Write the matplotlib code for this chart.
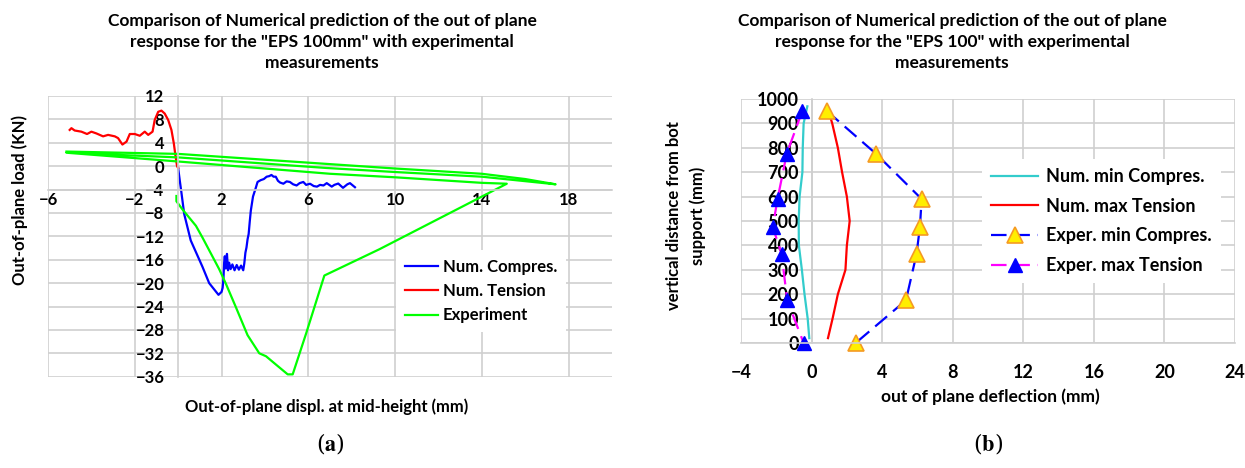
import numpy as np
import matplotlib.pyplot as plt

plt.rcParams['font.family'] = ['Lato', 'DejaVu Sans']
plt.rcParams['font.weight'] = 'bold'
plt.rcParams['mathtext.fontset'] = 'stix'

# (a) load vs mid-height displacement
tension_x = [-5.0, -4.92, -4.77, -4.46, -4.2, -4.0, -3.77, -3.46, -3.23, -2.92, -2.77, -2.57,
             -2.38, -2.23, -2.0, -1.77, -1.54, -1.38, -1.18, -1.08, -0.92, -0.77, -0.62, -0.46,
             -0.31, -0.2, -0.12, -0.05, 0.0]
tension_y = [6.2, 6.5, 6.1, 5.9, 5.5, 5.9, 5.6, 5.1, 5.35, 5.1, 4.8, 3.7,
             4.2, 5.5, 5.5, 5.2, 5.9, 5.35, 5.9, 7.9, 9.3, 9.5, 9.0, 7.9,
             6.2, 3.9, 1.7, 0.0, -0.3]

compres_x = [0.0, 0.08, 0.15, 0.28, 0.58, 1.12, 1.43, 1.86, 2.0, 2.05, 2.09, 2.12, 2.15, 2.2,
             2.25, 2.3, 2.35, 2.42, 2.5, 2.6, 2.7, 2.8, 2.9, 3.0, 3.05, 3.1, 3.15, 3.2, 3.25,
             3.3, 3.35, 3.45, 3.58, 3.66, 3.8, 3.95, 4.08, 4.2, 4.3, 4.4, 4.5, 4.6, 4.7, 4.85,
             5.0, 5.15, 5.3, 5.46, 5.6, 5.77, 5.9, 6.08, 6.25, 6.4, 6.54, 6.7, 6.85, 7.08, 7.2,
             7.38, 7.6, 7.8, 7.92, 8.15]
compres_y = [-0.3, -2.6, -4.5, -8.2, -12.7, -17.2, -20.0, -22.0, -21.5, -20.8, -19.1, -16.5,
             -15.4, -17.5, -15.0, -17.8, -16.5, -17.6, -16.8, -17.8, -16.9, -17.7, -17.0, -17.8,
             -16.6, -14.8, -13.9, -12.5, -11.6, -9.5, -7.6, -5.2, -3.7, -2.7, -2.4, -2.2, -1.8,
             -1.7, -1.5, -1.8, -1.8, -2.5, -2.8, -3.0, -2.6, -2.7, -3.1, -3.3, -2.9, -2.7, -3.2,
             -3.0, -3.4, -3.5, -3.2, -3.3, -2.9, -3.5, -3.2, -2.97, -3.7, -3.1, -2.9, -3.6]

exp_x = [-0.08, -0.08, 0.2, 0.82, 1.12, 1.89, 2.2, 2.66, 3.2, 3.74, 4.05, 4.5, 5.05, 5.28,
         5.9, 6.74, 9.28, 15.15,
         14.0, 10.0, 7.0, 0.0, -5.15,
         0.0, 6.8, 10.0, 14.0, 17.4,
         16.0, 14.0, 10.0, 6.8, 0.0, -5.15]
exp_y = [-5.1, -6.0, -7.4, -10.2, -12.2, -17.6, -20.1, -24.1, -28.9, -32.0, -32.5, -33.9, -35.6, -35.6,
         -28.6, -18.7, -14.2, -3.0,
         -2.85, -1.9, -1.3, 0.8, 2.3,
         1.5, -0.3, -1.0, -1.8, -3.1,
         -2.2, -1.3, -0.4, 0.4, 2.1, 2.5]

# (b) deflection along the height
num_heights = [20, 100, 200, 300, 400, 500, 600, 700, 800, 900, 970]
num_comp_x = [-0.13, -0.22, -0.4, -0.55, -0.72, -0.73, -0.68, -0.52, -0.5, -0.45, -0.24]
num_tens_x = [0.93, 1.19, 1.49, 1.92, 2.0, 2.16, 2.0, 1.73, 1.49, 1.17, 0.88]

exp_heights = [950, 775, 590, 475, 365, 175, 0]
exp_comp_x = [0.88, 3.66, 6.24, 6.14, 5.95, 5.35, 2.5]
exp_tens_x = [-0.53, -1.41, -1.93, -2.2, -1.7, -1.38, -0.45]

W, H = 1245, 468
fig = plt.figure(figsize=(W / 100, H / 100), dpi=100)

grid_c = '#cfcfcf'


def px_axes(x0, y0, x1, y1):
    return fig.add_axes([x0 / W, 1 - y1 / H, (x1 - x0) / W, (y1 - y0) / H])


def style(ax, fs, pad_y, pad_x):
    for s in ['top', 'right']:
        ax.spines[s].set_visible(False)
    for s in ['left', 'bottom']:
        ax.spines[s].set_color(grid_c)
        ax.spines[s].set_linewidth(1.2)
    ax.grid(True, color=grid_c, linewidth=1.2)
    ax.set_axisbelow(True)
    ax.tick_params(length=0, labelsize=fs)
    ax.tick_params(axis='y', pad=pad_y)
    ax.tick_params(axis='x', pad=pad_x)


# ---- left panel
ax1 = px_axes(48, 96, 612, 376.7)
ax1.plot(compres_x, compres_y, color='#0000ff', lw=1.6, label='Num. Compres.')
ax1.plot(tension_x, tension_y, color='#ff0000', lw=1.6, label='Num. Tension')
ax1.plot(exp_x, exp_y, color='#00ff00', lw=1.6, label='Experiment')
ax1.set_xlim(-6, 20)
ax1.set_ylim(-36, 12)
ax1.set_xticks(np.arange(-6, 19, 4))
ax1.set_yticks(np.arange(-36, 13, 4))
ax1.spines['left'].set_position(('data', 0))
ax1.spines['bottom'].set_position(('data', -4))
style(ax1, 12, 10, 1.5)

ax1.legend(loc='upper left', bbox_to_anchor=(388 / W, 1 - 242 / H), bbox_transform=fig.transFigure,
           frameon=True, fancybox=False, edgecolor='none', facecolor='white', framealpha=1,
           fontsize=12, handlelength=2.0, handletextpad=0.3, labelspacing=0.5, borderpad=0.5)

fig.text(322 / W, 1 - 13 / H,
         'Comparison of Numerical prediction of the out of plane\n'
         'response for the "EPS 100mm" with experimental\nmeasurements',
         ha='center', va='top', fontsize=12.5, linespacing=1.4)
fig.text(327 / W, 1 - 407 / H, 'Out-of-plane displ. at mid-height (mm)', ha='center', va='center', fontsize=12)
fig.text(20 / W, 1 - 200 / H, 'Out-of-plane load (KN)', ha='center', va='center', rotation=90, fontsize=12)
fig.text(330 / W, 1 - 443 / H, r'($\mathbf{a}$)', ha='center', va='center', fontsize=16,
         family='serif', fontweight='normal')

# ---- right panel
ax2 = px_axes(741, 99, 1235, 343)
ax2.plot(num_comp_x, num_heights, color='#33cccc', lw=1.6, label='Num. min Compres.')
ax2.plot(num_tens_x, num_heights, color='#ff0000', lw=1.6, label='Num. max Tension')
ax2.plot(exp_comp_x, exp_heights, color='#0000ff', lw=1.6, dashes=(7, 3.5), marker='^',
         markersize=11, markerfacecolor='#ffee00', markeredgecolor='#f59a23', markeredgewidth=1.2,
         label='Exper. min Compres.', clip_on=False)
ax2.plot(exp_tens_x, exp_heights, color='#ff00ff', lw=1.6, dashes=(7, 3.5), marker='^',
         markersize=10, markerfacecolor='#0000ff', markeredgecolor='#0000ff',
         label='Exper. max Tension', clip_on=False)
ax2.set_xlim(-4, 24)
ax2.set_ylim(0, 1000)
ax2.set_xticks(np.arange(-4, 25, 4))
ax2.set_yticks(np.arange(0, 1001, 100))
ax2.spines['left'].set_position(('data', 0))
style(ax2, 13, 9, 15)

ax2.legend(loc='upper left', bbox_to_anchor=(973 / W, 1 - 150 / H), bbox_transform=fig.transFigure,
           frameon=True, fancybox=False, edgecolor='none', facecolor='white', framealpha=1,
           fontsize=13, handlelength=2.6, handletextpad=0.45, labelspacing=0.7, borderpad=0.5)

fig.text(952 / W, 1 - 13 / H,
         'Comparison of Numerical prediction of the out of plane\n'
         'response for the "EPS 100" with experimental\nmeasurements',
         ha='center', va='top', fontsize=12.5, linespacing=1.4)
fig.text(990 / W, 1 - 397 / H, 'out of plane deflection (mm)', ha='center', va='center', fontsize=12.5)
fig.text(686 / W, 1 - 216 / H, 'vertical distance from bot\nsupport (mm)', ha='center', va='center',
         rotation=90, fontsize=12, linespacing=1.5)
fig.text(988 / W, 1 - 443 / H, r'($\mathbf{b}$)', ha='center', va='center', fontsize=16,
         family='serif', fontweight='normal')

fig.savefig('out.png', dpi=100)
